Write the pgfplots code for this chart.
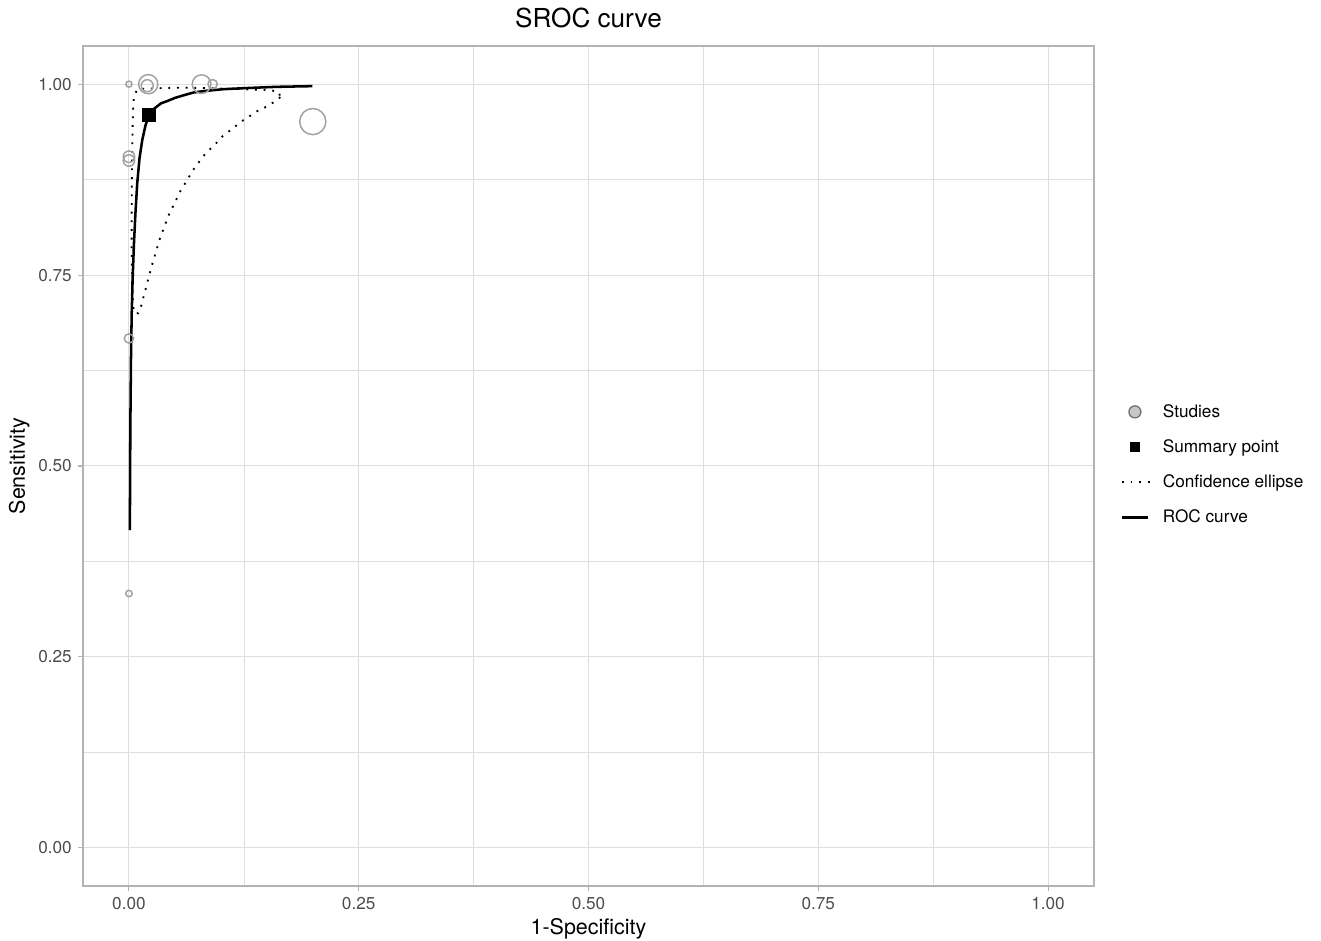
\documentclass[border=0pt]{standalone}
\usepackage{fontspec}
\setmainfont{TeX Gyre Heros}
\usepackage{pgfplots}
\usepackage{pgfplotstable}
\pgfplotsset{compat=1.18}

\definecolor{grey30}{HTML}{4D4D4D}
\definecolor{grey70}{HTML}{B3B3B3}
\definecolor{grey87}{HTML}{DEDEDE}
\definecolor{studygrey}{HTML}{A0A0A0}

% study points: 1-spec, sens, circle radius (pt)
\pgfplotstableread{
x      y      r
0.000  1.000  2.3
0.021  1.000  7.2
0.0199 0.998  4.5
0.079  1.000  7.0
0.091  1.000  3.5
0.200  0.951  9.8
0.000  0.905  4.3
0.000  0.900  4.3
0.000  0.667  3.5
0.000  0.333  2.4
}\studies

\pgfplotstableread{
x       y
0.1647  0.983
0.157   0.976
0.1487  0.970
0.140   0.965
0.1325  0.959
0.1245  0.953
0.117   0.946
0.1097  0.939
0.102   0.932
0.096   0.924
0.0825  0.908
0.0706  0.889
0.056   0.860
0.0434  0.829
0.0337  0.798
0.0253  0.764
0.0199  0.740
0.0134  0.710
0.0101  0.700
0.0054  0.7007
0.0036  0.727
0.0029  0.788
0.0030  0.854
0.0036  0.919
0.0043  0.962
0.0054  0.984
0.0090  0.993
0.0116  0.9937
0.040   0.9950
0.058   0.9955
0.080   0.9950
0.110   0.9940
0.134   0.9930
0.154   0.9920
0.163   0.9900
0.1647  0.983
}\ellipse

\pgfplotstableread{
x       y
0.0010  0.416
0.0015  0.550
0.0022  0.640
0.0030  0.700
0.0040  0.745
0.0054  0.790
0.0070  0.830
0.0090  0.870
0.0115  0.903
0.0145  0.927
0.0180  0.946
0.0217  0.960
0.0275  0.968
0.0350  0.975
0.0420  0.978
0.0500  0.982
0.0600  0.9856
0.0700  0.989
0.0818  0.991
0.1035  0.9935
0.1300  0.995
0.1600  0.9965
0.1995  0.9974
}\roc

\begin{document}
\begin{tikzpicture}
\useasboundingbox (-62.25pt,-41.25pt) rectangle (928.5pt,664.5pt);
\begin{axis}[
  at={(0,0)}, anchor=south west,
  scale only axis, width=758.25pt, height=630pt,
  xmin=-0.05, xmax=1.05, ymin=-0.05, ymax=1.05,
  xtick={0,0.25,0.5,0.75,1}, ytick={0,0.25,0.5,0.75,1},
  minor tick num=1, minor tick length=0pt,
  grid=both,
  major grid style={grey87, line width=0.75pt},
  minor grid style={grey87, line width=0.45pt},
  tick align=outside, tick pos=left, major tick length=3.5pt,
  tick style={grey70, line width=0.8pt},
  axis line style={grey70, line width=1pt},
  scaled ticks=false,
  /pgf/number format/fixed, /pgf/number format/fixed zerofill,
  /pgf/number format/precision=2, /pgf/number format/assume math mode=true,
  tick label style={font=\fontsize{12.9}{15}\selectfont, text=grey30, inner sep=0pt},
  xticklabel shift=5pt, yticklabel shift=4.75pt,
  xlabel={1-Specificity}, ylabel={Sensitivity},
  x label style={at={(axis description cs:0.5,0)}, anchor=base, yshift=-36.75pt, font=\fontsize{16.1}{19}\selectfont},
  y label style={at={(axis description cs:0,0.5)}, anchor=base, yshift=43.5pt, font=\fontsize{16.1}{19}\selectfont},
  title={SROC curve},
  title style={at={(axis description cs:0.5,1)}, anchor=base, yshift=7.5pt, font=\fontsize{19.6}{23}\selectfont},
  legend cell align=left,
  legend style={draw=none, fill=none, at={(axis description cs:1,0.5)}, anchor=west,
    xshift=20pt, yshift=1pt, inner sep=0pt, outer sep=0pt, row sep=14.4pt,
    font=\fontsize{12.9}{15}\selectfont,
    nodes={inner sep=0pt, text height=10pt, text depth=2pt},
    /tikz/every odd column/.append style={column sep=9pt}},
]
\addplot[scatter, only marks, mark=o, point meta=\thisrow{r},
  scatter/use mapped color={draw=studygrey, fill=none},
  visualization depends on={\thisrow{r} \as \perpointmarksize},
  scatter/@pre marker code/.append style={/tikz/mark size=\perpointmarksize},
  mark options={line width=1.1pt},
  legend image code/.code={\draw[black!55, fill=black!22, line width=1pt] (9.75pt,0pt) circle (4.5pt);}]
  table[x=x, y=y] {\studies};
\addlegendentry{Studies}
\addplot[only marks, mark=square*, mark size=4.75pt, mark options={fill=black, draw=black},
  legend image code/.code={\fill[black] (6.6pt,-3.3pt) rectangle (12.9pt,3.3pt);}]
  coordinates {(0.0217,0.960)};
\addlegendentry{Summary point}
\addplot[black, line width=1.4pt, dash pattern=on 1.4pt off 5.1pt,
  legend image code/.code={\draw[black, line width=1.4pt, dash pattern=on 1.4pt off 5.1pt] (0pt,0pt) -- (21pt,0pt);}]
  table[x=x, y=y] {\ellipse};
\addlegendentry{Confidence ellipse}
\addplot[black, line width=1.9pt,
  legend image code/.code={\draw[black, line width=1.9pt] (0pt,0pt) -- (19.5pt,0pt);}]
  table[x=x, y=y] {\roc};
\addlegendentry{ROC curve}
\end{axis}
\end{tikzpicture}
\end{document}
